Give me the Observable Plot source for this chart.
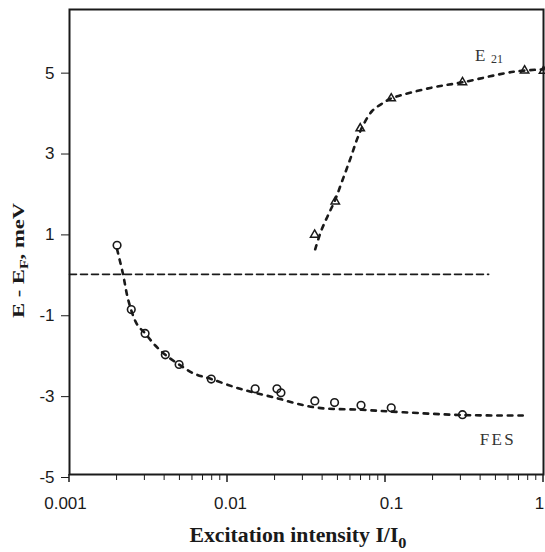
<!DOCTYPE html>
<html>
<head>
<meta charset="utf-8">
<script src="https://cdn.jsdelivr.net/npm/d3@7"></script>
<script src="https://cdn.jsdelivr.net/npm/@observablehq/plot@0.6"></script>
<style>
  html, body { margin: 0; padding: 0; background: #fff; }
  #chart svg { display: block; }
</style>
</head>
<body>
<div id="chart"></div>
<script>
// FES data points (circles)
const fesX = [0.00200, 0.00246, 0.00301, 0.00404, 0.00494, 0.00789, 0.01497, 0.02056, 0.02179, 0.0357, 0.0476, 0.0700, 0.1087, 0.307];
const fesY = [0.67, -0.92, -1.51, -2.04, -2.28, -2.64, -2.88, -2.88, -2.98, -3.18, -3.22, -3.29, -3.35, -3.52];
// E21 data points (triangles)
const e21X = [0.0356, 0.0481, 0.0692, 0.1087, 0.307, 0.759, 1.0];
const e21Y = [0.93, 1.75, 3.56, 4.30, 4.70, 4.99, 4.98];
// Fitted curves (dashed)
const fesFitX = [0.00200, 0.00218, 0.00236, 0.00267, 0.00301, 0.00349, 0.00404, 0.00494, 0.00610, 0.00789, 0.0120, 0.0195, 0.0357, 0.0706, 0.130, 0.307, 0.745];
const fesFitY = [0.57, -0.04, -0.70, -1.28, -1.51, -1.81, -2.04, -2.28, -2.50, -2.64, -2.88, -3.09, -3.34, -3.40, -3.46, -3.53, -3.54];
const e21FitX = [0.0359, 0.0392, 0.0434, 0.0480, 0.0532, 0.0598, 0.0662, 0.0722, 0.0823, 0.0967, 0.1086, 0.192, 0.307, 0.646, 1.0];
const e21FitY = [0.57, 1.03, 1.42, 1.79, 2.26, 2.80, 3.30, 3.64, 3.99, 4.19, 4.30, 4.56, 4.70, 4.96, 5.02];
// Fermi level reference line
const refLineX = [0.001, 0.45];
const refLineY = [-0.05, -0.05];
// Axes
const xTicks = [0.001, 0.01, 0.1, 1];
const xTickLabels = ["0.001", "0.01", "0.1", "1"];
const xMinorTicks = [0.002,0.003,0.004,0.005,0.006,0.007,0.008,0.009,0.02,0.03,0.04,0.05,0.06,0.07,0.08,0.09,0.2,0.3,0.4,0.5,0.6,0.7,0.8,0.9];
const yTicks = [-5, -3, -1, 1, 3, 5];
const yTickLabels = ["-5", "-3", "-1", "1", "3", "5"];
// Curve labels
const labelText = ["E", "21", "FES"];
const labelX = [0.368, 0.465, 0.395];
const labelY = [5.22, 5.165, -4.267];

const xLabelMap = new Map(xTicks.map((d, i) => [d, xTickLabels[i]]));
const yLabelMap = new Map(yTicks.map((d, i) => [d, yTickLabels[i]]));
const xLabelShift = [-4, 3, 6, -4];
const ink = "#1a1a1a";
const serif = "'Liberation Serif', 'Times New Roman', serif";
const sans = "'Liberation Sans', Arial, sans-serif";

const fes = fesX.map((x, i) => ({x, y: fesY[i]}));
const e21 = e21X.map((x, i) => ({x, y: e21Y[i]}));
const fesFit = fesFitX.map((x, i) => ({x, y: fesFitY[i]}));
const e21Fit = e21FitX.map((x, i) => ({x, y: e21FitY[i]}));
const refLine = refLineX.map((x, i) => ({x, y: refLineY[i]}));
const labels = labelText.map((t, i) => ({t, x: labelX[i], y: labelY[i]}));

const plot = Plot.plot({
  width: 545,
  height: 552,
  marginLeft: 69,
  marginRight: 2,
  marginTop: 9,
  marginBottom: 78,
  style: {color: ink, background: "#fff", fontFamily: sans},
  x: {type: "log", domain: [0.001, 1]},
  y: {domain: [-5, 6.5]},
  marks: [
    Plot.line(refLine, {x: "x", y: "y", stroke: ink, strokeWidth: 1.6, strokeDasharray: "7,4"}),
    Plot.line(fesFit, {x: "x", y: "y", curve: "catmull-rom", stroke: ink, strokeWidth: 2.6, strokeDasharray: "4.5,6"}),
    Plot.line(e21Fit, {x: "x", y: "y", curve: "catmull-rom", stroke: ink, strokeWidth: 2.6, strokeDasharray: "4.5,6"}),
    Plot.dot(fes, {x: "x", y: "y", symbol: "circle", r: 3.8, stroke: ink, strokeWidth: 1.6, fill: "none"}),
    Plot.dot(e21, {x: "x", y: "y", symbol: "triangle", r: 3.1, stroke: ink, strokeWidth: 1.5, fill: "none"}),
    Plot.text(labels.filter(d => d.t === "E"), {x: "x", y: "y", text: "t", textAnchor: "start", lineAnchor: "bottom", fontSize: 17, fontFamily: serif, fill: "#333"}),
    Plot.text(labels.filter(d => d.t === "21"), {x: "x", y: "y", text: "t", textAnchor: "start", lineAnchor: "bottom", fontSize: 12, fontFamily: serif, fill: "#333"}),
    Plot.text(labels.filter(d => d.t === "FES"), {x: "x", y: "y", text: "t", textAnchor: "start", lineAnchor: "bottom", fontSize: 17, fontFamily: serif, fill: "#333", className: "fes-label"}),
    Plot.axisY({ticks: yTicks, tickFormat: d => yLabelMap.get(d), tickSize: 8, tickPadding: 7, fontSize: 17, label: null, dy: 3}),
    ...xTicks.map((t, i) => Plot.axisX({ticks: [t], tickFormat: d => xLabelMap.get(d), tickSize: 8, tickPadding: 14, fontSize: 17, label: null, dx: xLabelShift[i]})),
    Plot.axisX({ticks: xTicks, tickFormat: () => "", tickSize: 8, label: null}),
    Plot.axisX({ticks: xMinorTicks, tickFormat: () => "", tickSize: 6, label: null}),
    Plot.frame({stroke: ink, strokeWidth: 2})
  ]
});

document.getElementById("chart").appendChild(plot);
const svg = d3.select(plot);
svg.selectAll(".fes-label text").attr("letter-spacing", "2.3");
// keep the shifted labels only on the text, not on the tick lines
svg.selectAll("g[aria-label='x-axis tick']").attr("transform", null);

// Y axis title
const yt = svg.append("text")
  .attr("transform", "translate(24,260.5) rotate(-90)")
  .attr("text-anchor", "middle")
  .attr("font-family", serif)
  .attr("font-weight", "bold")
  .attr("font-size", 17)
  .attr("fill", ink)
  .attr("textLength", 115)
  .attr("lengthAdjust", "spacingAndGlyphs");
yt.append("tspan").text("E - E");
yt.append("tspan").attr("font-size", 12).attr("dy", 4).text("F");
yt.append("tspan").attr("dy", -4).text(", meV");

// X axis title
const xt = svg.append("text")
  .attr("x", 298)
  .attr("y", 541.7)
  .attr("text-anchor", "middle")
  .attr("font-family", serif)
  .attr("font-weight", "bold")
  .attr("font-size", 20)
  .attr("fill", ink)
  .attr("textLength", 217)
  .attr("lengthAdjust", "spacingAndGlyphs");
xt.append("tspan").text("Excitation intensity I/I");
xt.append("tspan").attr("font-size", 15).attr("dy", 6).text("0");
</script>
</body>
</html>
